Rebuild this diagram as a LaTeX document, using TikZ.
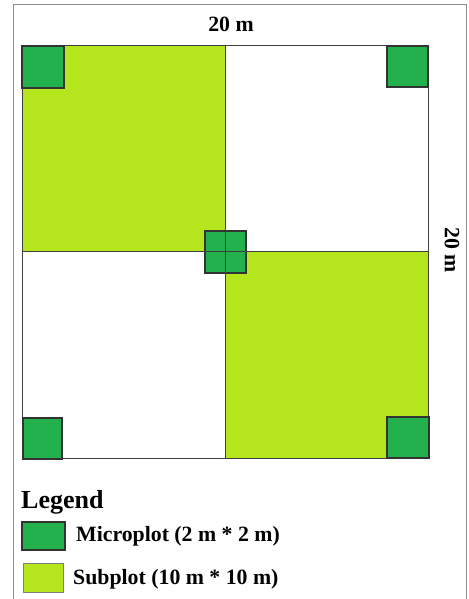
\documentclass[tikz,border=0pt]{standalone}
\usepackage{fontspec}
\setmainfont{Liberation Serif}
\definecolor{subgreen}{HTML}{B5E61D}
\definecolor{microgreen}{HTML}{22B14C}
\tikzset{
  micro/.style={fill=microgreen, draw=black!80, line width=1.2pt},
  subbox/.style={fill=subgreen, draw=black!50, line width=1pt},
  plotline/.style={draw=black!75, line width=1pt},
  dimtext/.style={font=\bfseries\fontsize{21.8}{24}\selectfont, inner sep=0pt},
}
\begin{document}
\begin{tikzpicture}[x=1pt, y=-1pt]
    \useasboundingbox (0,0) rectangle (468,599);
    % frame
    \draw[black!45, line width=1pt] (13,599) -- (13,5) -- (466,5) -- (466,599);

    % subplots
    \fill[subgreen] (22,46) rectangle (225,251);
    \fill[subgreen] (225,251) rectangle (428,458);
    \draw[plotline] (22,46) rectangle (428,458);

    % microplots
    \draw[micro] (22,46) rectangle (64,88);
    \draw[micro] (387,46) rectangle (428,87);
    \draw[micro] (23,418) rectangle (62,459);
    \draw[micro] (387,417) rectangle (429,458);
    \draw[micro] (205,231) rectangle (246,273);
    \draw[plotline] (225,46) -- (225,458);
    \draw[plotline] (22,251) -- (428,251);

    % dimensions
    \node[dimtext, anchor=base] (width) at (231,32) {20 m};
    \node[dimtext, rotate=-90] (height) at (452,250) {20 m};

    % legend
    \node[anchor=base west, inner sep=0pt, font=\bfseries\fontsize{26}{30}\selectfont] (legend) at (21,508) {Legend};
    \draw[micro] (22,522) rectangle (65,550);
    \node[dimtext, anchor=west] (microkey) at (76,536) {Microplot (2 m * 2 m)};
    \draw[subbox] (23,563) rectangle (63,592);
    \node[dimtext, anchor=west] (subkey) at (73,579) {Subplot (10 m * 10 m)};
\end{tikzpicture}
\end{document}
